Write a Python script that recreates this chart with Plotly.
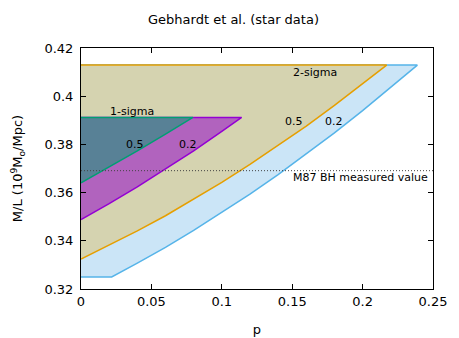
import plotly.graph_objects as go

# 2-sigma band, p = 0.2 (light blue) - lower edge
p_2s_02 = [0, 0.0218, 0.04, 0.06, 0.08, 0.10, 0.12, 0.14, 0.16, 0.18, 0.20, 0.22, 0.2389]
ml_2s_02 = [0.325, 0.325, 0.3307, 0.3373, 0.3443, 0.3517, 0.3594, 0.3675, 0.3760, 0.3848, 0.3940, 0.4036, 0.4129]

# 2-sigma band, p = 0.5 (orange)
p_2s_05 = [0, 0.02, 0.04, 0.06, 0.08, 0.10, 0.12, 0.14, 0.16, 0.18, 0.20, 0.2171]
ml_2s_05 = [0.3324, 0.3381, 0.3441, 0.3504, 0.3572, 0.3642, 0.3717, 0.3795, 0.3876, 0.3962, 0.4050, 0.4129]

# 1-sigma band, p = 0.2 (purple)
p_1s_02 = [0, 0.02, 0.04, 0.06, 0.08, 0.10, 0.1141]
ml_1s_02 = [0.3488, 0.3554, 0.3624, 0.3697, 0.3773, 0.3854, 0.3912]

# 1-sigma band, p = 0.5 (teal)
p_1s_05 = [0, 0.02, 0.04, 0.06, 0.0795]
ml_1s_05 = [0.3640, 0.3705, 0.3773, 0.3843, 0.3912]

top_2s = 0.4129
top_1s = 0.3912
m87_value = 0.3691

FONT = "DejaVu Sans"

fig = go.Figure()

bands = [
    (p_2s_02, ml_2s_02, top_2s, "#56b4e9", "rgb(203,229,247)"),
    (p_2s_05, ml_2s_05, top_2s, "#e69f00", "rgb(213,211,176)"),
    (p_1s_02, ml_1s_02, top_1s, "#9400d3", "rgb(177,99,190)"),
    (p_1s_05, ml_1s_05, top_1s, "#009e73", "rgb(88,129,150)"),
]
for xs, ys, top, line_col, fill_col in bands:
    fig.add_trace(go.Scatter(
        x=xs + [0], y=ys + [top],
        mode="lines", fill="toself", fillcolor=fill_col,
        line=dict(color=line_col, width=1.5),
        hoverinfo="skip", showlegend=False,
    ))

# measured value
fig.add_trace(go.Scatter(
    x=[0, 0.25], y=[m87_value, m87_value], mode="lines",
    line=dict(color="#444444", width=1, dash="1px,2px"),
    hoverinfo="skip", showlegend=False,
))

labels = [
    (0.0359, 0.3937, "1-sigma", "center"),
    (0.0384, 0.3799, "0.5", "center"),
    (0.0763, 0.3799, "0.2", "center"),
    (0.1662, 0.4098, "2-sigma", "center"),
    (0.1516, 0.3896, "0.5", "center"),
    (0.1797, 0.3896, "0.2", "center"),
    (0.2479, 0.3662, "M87 BH measured value", "right"),
]
for x, y, t, anchor in labels:
    fig.add_annotation(x=x, y=y, text=t, showarrow=False, xanchor=anchor,
                       yanchor="middle", font=dict(family=FONT, size=11, color="black"))

axis_style = dict(
    showline=True, linecolor="black", linewidth=1, mirror="ticks",
    ticks="inside", ticklen=5, tickcolor="black", tickwidth=1,
    showgrid=False, zeroline=False, automargin=False,
    tickfont=dict(family=FONT, size=13, color="black"),
)

# the page body adds an 8px offset, so the figure is 8px smaller than the window
fig.update_layout(
    width=451, height=330,
    margin=dict(l=73, r=26, t=40, b=49),
    paper_bgcolor="white", plot_bgcolor="white",
    title=dict(text="Gebhardt et al. (star data)", x=0.5, xanchor="center",
               y=0.964, yanchor="middle", font=dict(family=FONT, size=13, color="black")),
    xaxis=dict(range=[0, 0.25], tickvals=[0, 0.05, 0.1, 0.15, 0.2, 0.25],
               title=dict(text="p", font=dict(family=FONT, size=13, color="black"), standoff=17),
               **axis_style),
    yaxis=dict(range=[0.32, 0.42], tickvals=[0.32, 0.34, 0.36, 0.38, 0.4, 0.42],
               ticktext=["0.32", "0.34", "0.36", "0.38", "0.4", "0.42"],
               title=dict(text="M/L (10<sup>9</sup>M<sub>o</sub>/Mpc)",
                          font=dict(family=FONT, size=13, color="black"), standoff=18),
               ticklabelstandoff=4, **axis_style),
)

fig.write_html("out.html")
